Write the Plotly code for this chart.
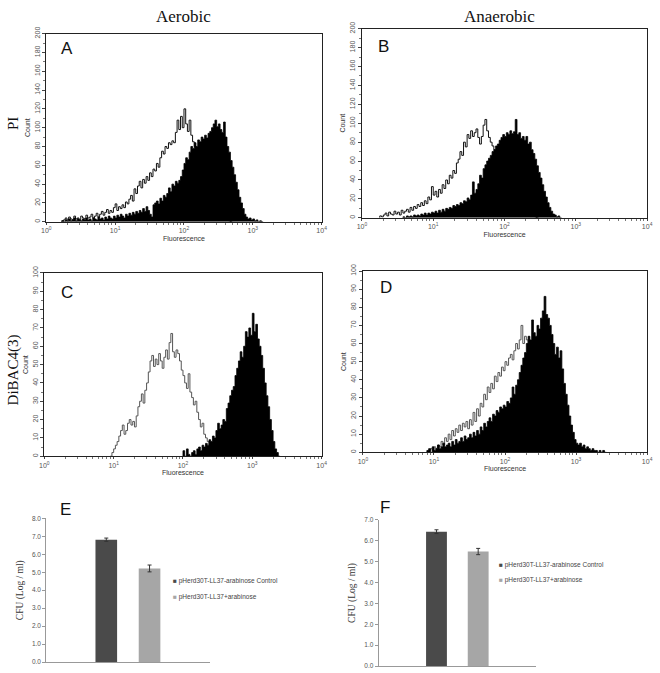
import numpy as np
import plotly.graph_objects as go

W, H = 660, 673

# ---------------- data ----------------
# flow-cytometry histograms: counts per log-fluorescence channel (bin width 0.025 decade)
STEP = 0.025

a_open_start = 0.225
a_open = [1, 2, 4, 2, 5, 3, 2, 6, 3, 4, 2, 6, 4, 3, 7, 4, 5, 8, 4, 6, 9, 5, 8, 11, 7, 10, 13, 9, 12, 10,
          15, 19, 12, 16, 14, 18, 15, 21, 19, 24, 28, 22, 35, 30, 38, 43, 36, 45, 41, 48, 44, 52, 48, 56,
          54, 62, 58, 68, 75, 72, 80, 78, 84, 82, 86, 84, 95, 108, 98, 112, 100, 120, 104, 96, 108, 92, 85,
          80, 76, 70, 66, 60, 55, 50, 45, 40, 35, 30, 26, 22, 18, 14, 10, 7, 5, 3, 2, 1, 0]
a_fill_start = 0.225
a_fill = [1, 0, 2, 1, 3, 1, 2, 4, 1, 3, 2, 1, 3, 2, 4, 2, 3, 1, 4, 3, 2, 5, 3, 4, 2, 5, 3, 6, 4, 3,
          6, 4, 7, 5, 8, 6, 4, 8, 6, 9, 7, 10, 8, 11, 9, 12, 10, 14, 11, 16, 12, 8, 5, 18, 20, 22, 19, 25,
          22, 28, 26, 30, 36, 32, 40, 38, 43, 41, 44, 48, 55, 62, 68, 66, 74, 80, 78, 84, 80, 87, 85, 90,
          88, 92, 89, 94, 96, 100, 104, 108, 101, 104, 98, 95, 106, 90, 80, 74, 65, 58, 50, 42, 34, 26,
          20, 14, 8, 5, 3, 4, 2, 3, 1, 2, 0, 1, 0]

b_open_start = 0.25
b_open = [2, 1, 3, 5, 2, 6, 4, 3, 7, 4, 6, 3, 8, 5, 7, 9, 6, 11, 8, 12, 10, 14, 12, 16, 13, 18, 15,
          22, 19, 33, 24, 28, 22, 30, 26, 35, 31, 40, 36, 45, 42, 50, 47, 58, 62, 70, 66, 80, 75, 88,
          84, 92, 86, 90, 94, 85, 78, 86, 98, 104, 92, 85, 80, 76, 72, 68, 64, 60, 56, 52, 48, 44, 40,
          36, 32, 28, 25, 22, 19, 16, 13, 10, 8, 6, 4, 3, 2, 1, 0]
b_fill_start = 0.575
b_fill = [1, 0, 2, 1, 2, 1, 3, 2, 3, 2, 4, 3, 5, 3, 5, 4, 6, 5, 7, 5, 8, 6, 9, 7, 10, 9, 11, 10, 13,
          12, 14, 13, 16, 15, 18, 17, 21, 19, 24, 38, 26, 30, 36, 45, 42, 52, 56, 60, 63, 66, 70, 72,
          76, 78, 82, 85, 88, 86, 90, 88, 92, 89, 91, 104, 88, 90, 84, 86, 82, 86, 78, 80, 72, 68, 62,
          55, 48, 42, 35, 28, 22, 16, 11, 7, 4, 3, 1, 2, 0]

c_open_start = 0.95
c_open = [0, 2, 4, 6, 8, 11, 14, 17, 12, 14, 18, 20, 17, 19, 16, 22, 27, 30, 34, 29, 36, 40, 46, 52,
          55, 49, 53, 50, 56, 52, 48, 54, 58, 53, 62, 67, 57, 54, 58, 56, 52, 47, 44, 40, 37, 45, 35,
          32, 28, 30, 24, 20, 16, 18, 12, 10, 8, 6, 5, 3, 2, 1, 0]
c_fill_start = 2.0
c_fill = [3, 0, 4, 1, 0, 2, 3, 1, 4, 5, 3, 6, 5, 7, 6, 9, 8, 11, 10, 14, 18, 15, 17, 20, 19, 26, 29,
          33, 36, 38, 44, 48, 52, 57, 54, 60, 68, 65, 70, 66, 78, 68, 72, 64, 60, 55, 48, 40, 33, 27,
          20, 14, 8, 4, 2, 0]

d_open_start = 0.9
d_open = [0, 1, 2, 1, 3, 2, 4, 3, 6, 4, 8, 6, 10, 7, 12, 9, 13, 11, 15, 12, 16, 14, 17, 13, 18, 15,
          22, 17, 24, 20, 27, 25, 32, 29, 36, 33, 38, 35, 42, 39, 44, 42, 47, 45, 50, 48, 52, 54, 51,
          56, 60, 57, 62, 70, 60, 64, 62, 58, 55, 52, 48, 44, 40, 36, 32, 28, 24, 20, 16, 12, 8, 5, 3,
          1, 0]
d_fill_start = 0.9
d_fill = [1, 2, 0, 3, 1, 2, 4, 2, 3, 5, 3, 4, 5, 3, 6, 4, 7, 5, 6, 8, 6, 9, 7, 8, 10, 8, 11, 9, 12,
          10, 14, 12, 16, 14, 17, 19, 17, 21, 20, 23, 22, 25, 24, 26, 25, 28, 27, 30, 36, 32, 37, 40,
          44, 48, 52, 55, 60, 64, 62, 73, 66, 64, 70, 68, 74, 78, 86, 76, 74, 70, 65, 60, 54, 58, 52,
          56, 46, 38, 32, 26, 20, 15, 11, 7, 5, 4, 5, 3, 4, 2, 3, 2, 1, 2, 1, 1, 0, 1, 0, 1, 0]

# CFU bar charts
conditions = ['pHerd30T-LL37-arabinose Control', 'pHerd30T-LL37+arabinose']
e_values = [6.81, 5.21]
e_errors = [0.09, 0.19]
f_values = [6.43, 5.48]
f_errors = [0.09, 0.15]

hist_xticks = [1, 10, 100, 1000, 10000]
hist_xticktext = ['10<sup>0</sup>', '10<sup>1</sup>', '10<sup>2</sup>', '10<sup>3</sup>', '10<sup>4</sup>']

# ---------------- helpers ----------------
def px(x):
    return x / W

def py(y):
    return 1 - y / H

def hist_xy(start, counts):
    n = len(counts)
    edges = start + STEP * np.arange(n + 1)
    x = np.concatenate([[10 ** edges[0]], 10 ** edges])
    y = [0] + list(counts) + [0]
    return x, y

fig = go.Figure()

panels = [
    ('', '', a_open_start, a_open, a_fill_start, a_fill, '#111'),
    ('2', '2', b_open_start, b_open, b_fill_start, b_fill, '#111'),
    ('3', '3', c_open_start, c_open, c_fill_start, c_fill, '#555'),
    ('4', '4', d_open_start, d_open, d_fill_start, d_fill, '#555'),
]
for xs, ys, os_, oc, fs, fc, ocol in panels:
    x, y = hist_xy(os_, oc)
    fig.add_trace(go.Scatter(x=x, y=y, mode='lines', line=dict(color=ocol, width=1, shape='hv'),
                             xaxis='x' + xs, yaxis='y' + ys, showlegend=False, hoverinfo='skip'))
    x, y = hist_xy(fs, fc)
    fig.add_trace(go.Scatter(x=x, y=y, mode='lines', line=dict(color='#000', width=0.8, shape='hv'),
                             fill='tozeroy', fillcolor='#000',
                             xaxis='x' + xs, yaxis='y' + ys, showlegend=False, hoverinfo='skip'))

bar_colors = ['#4a4a4a', '#a6a6a6']
for ax, vals, errs in [('5', e_values, e_errors), ('6', f_values, f_errors)]:
    for i in range(2):
        fig.add_trace(go.Bar(x=[0], y=[vals[i]], name=conditions[i], marker=dict(color=bar_colors[i], line=dict(width=0)),
                             error_y=dict(type='data', array=[errs[i]], color='#333', thickness=1, width=2),
                             offsetgroup=str(i), xaxis='x' + ax, yaxis='y' + ax, showlegend=False))

minor_x = [m * 10 ** d for d in range(4) for m in range(2, 10)]
tickfont = dict(size=7, color='#555', family='Liberation Sans')

def hist_axes(n, l, r, t, b, ymax, ydt, ymin_dt):
    suf = '' if n == 1 else str(n)
    xa = dict(domain=[px(l), px(r)], anchor='y' + suf, type='log', range=[0, 4],
              tickvals=hist_xticks, ticktext=hist_xticktext, ticks='outside', ticklen=2, tickcolor='#444',
              minor=dict(ticks='outside', ticklen=2, tickvals=minor_x, tickcolor='#777'),
              showline=True, mirror=True, linecolor='#222', linewidth=1, showgrid=False, zeroline=False,
              tickfont=tickfont, ticklabeloverflow='allow',
              title=dict(text='Fluorescence', font=dict(size=7, color='#333', family='Liberation Sans'), standoff=2))
    ya = dict(domain=[py(b), py(t)], anchor='x' + suf, range=[0, ymax], dtick=ydt, tickangle=-90,
              ticks='outside', ticklen=3, tickcolor='#444',
              minor=dict(ticks='outside', ticklen=2, dtick=ymin_dt, tickcolor='#777'),
              showline=True, mirror=True, linecolor='#222', linewidth=1, showgrid=False, zeroline=False,
              tickfont=tickfont,
              title=dict(text='Count', font=dict(size=7, color='#333', family='Liberation Sans'), standoff=2))
    return xa, ya

layout = {}
for n, (l, r, t, b, ymax, ydt, mdt) in enumerate([
        (42, 322, 27, 218, 200, 20, 10),
        (363, 653, 22, 214, 200, 20, 10),
        (40, 322, 270, 456, 100, 10, 5),
        (364, 653, 268, 452, 100, 10, 5)], start=1):
    xa, ya = hist_axes(n, l, r, t, b, ymax, ydt, mdt)
    suf = '' if n == 1 else str(n)
    layout['xaxis' + suf] = xa
    layout['yaxis' + suf] = ya

def bar_axes(n, l, r, t, b, ymax):
    xa = dict(domain=[px(l), px(r)], anchor='y%d' % n, range=[-0.5, 0.5], showticklabels=False,
              ticks='', showline=True, linecolor='#999', linewidth=1, showgrid=False, zeroline=False)
    ya = dict(domain=[py(b), py(t)], anchor='x%d' % n, range=[0, ymax], dtick=1, tickformat='.1f',
              ticks='outside', ticklen=3, tickcolor='#999', showline=True, linecolor='#999', linewidth=1,
              showgrid=False, zeroline=False, tickfont=dict(size=6.5, color='#555', family='Liberation Sans'),
              title=dict(text='CFU (Log / ml)', font=dict(size=9.5, color='#333', family='Liberation Serif'),
                         standoff=6))
    return xa, ya

xa, ya = bar_axes(5, 42, 208, 519, 665, 8)
layout['xaxis5'], layout['yaxis5'] = xa, ya
xa, ya = bar_axes(6, 380, 540, 520.5, 669, 7)
layout['xaxis6'], layout['yaxis6'] = xa, ya

annotations = []
def ann(text, x, y, size, family='Liberation Sans', xanchor='center', angle=0, color='#111'):
    annotations.append(dict(text=text, x=px(x), y=py(y), xref='paper', yref='paper', showarrow=False,
                            xanchor=xanchor, yanchor='middle', textangle=angle,
                            font=dict(size=size, family=family, color=color)))

ann('Aerobic', 182, 10, 17, 'Liberation Serif')
ann('Anaerobic', 503, 10, 17, 'Liberation Serif')
ann('PI', 8, 118, 15, 'Liberation Serif', angle=-90)
ann('DiBAC4(3)', 9, 368, 15, 'Liberation Serif', angle=-90)
for letter, x, y in [('A', 55, 42), ('B', 377, 40), ('C', 55, 290), ('D', 379, 285), ('E', 54, 510), ('F', 379, 508)]:
    ann(letter, x, y, 17, xanchor='left')

for (lx, ly0, dy) in [(169, 583, 16), (500, 566, 16)]:
    for i, name in enumerate(conditions):
        ann("<span style='color:%s'>■</span> %s" % (bar_colors[i], name), lx, ly0 + i * dy, 6.5,
            xanchor='left', color='#444')

fig.update_layout(width=W, height=H, margin=dict(l=0, r=0, t=0, b=0),
                  paper_bgcolor='white', plot_bgcolor='white',
                  font=dict(family='Liberation Sans', color='#333'),
                  barmode='group', bargap=0.47, bargroupgap=0.5,
                  annotations=annotations, showlegend=False, **layout)

fig.write_html('out.html', config={'displayModeBar': False},
               post_script="document.body.style.margin='0px';document.body.style.overflow='hidden';")
